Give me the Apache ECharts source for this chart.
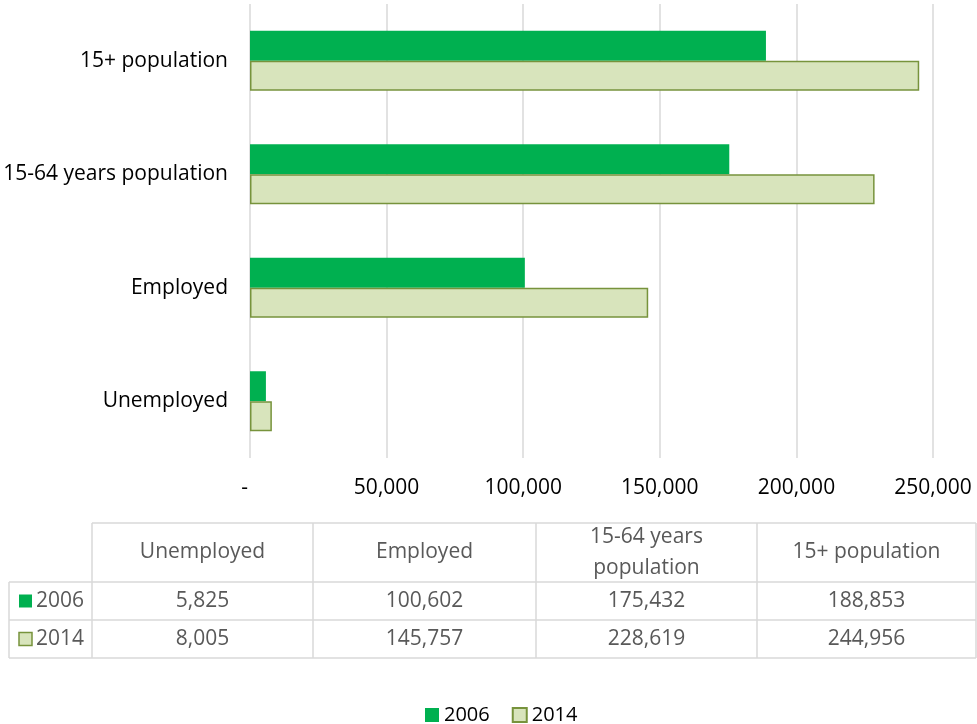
<!DOCTYPE html>
<html>
<head>
<meta charset="utf-8">
<script src="https://cdn.jsdelivr.net/npm/echarts@6/dist/echarts.min.js"></script>
<style>html,body{margin:0;padding:0;background:#fff}#c{width:977px;height:724px}</style>
</head>
<body>
<div id="c"></div>
<script>
// ---- data ----
const categories = ['Unemployed', 'Employed', '15-64 years population', '15+ population'];
const tableHeaders = ['Unemployed', 'Employed', '15-64 years\npopulation', '15+ population'];
const seriesNames = ['2006', '2014'];
const values2006 = [5825, 100602, 175432, 188853];
const values2014 = [8005, 145757, 228619, 244956];
const xTicks = [0, 50000, 100000, 150000, 200000, 250000];

// ---- styles / layout ----
const FONT = 'Open Sans';
const C2006 = '#00B050';
const C2014 = '#D8E4BC';
const C2014B = '#77933C';
const GRID = '#D9D9D9';
const colX = [92, 313, 536, 757, 976];
const rowY = [523, 582, 620, 658];
const rowLabelX = 9;

const fmt = v => v === 0 ? '-  ' : v.toLocaleString('en-US');

const chart = echarts.init(document.getElementById('c'), null, {renderer: 'canvas'});

const graphics = [];
const line = (x1, y1, x2, y2) => graphics.push({
  type: 'line', silent: true,
  shape: {x1, y1, x2, y2},
  style: {stroke: GRID, lineWidth: 1.5}
});
line(colX[0], rowY[0], colX[4], rowY[0]);
for (let r = 1; r < rowY.length; r++) line(rowLabelX, rowY[r], colX[4], rowY[r]);
line(rowLabelX, rowY[1], rowLabelX, rowY[3]);
for (let c = 0; c < colX.length; c++) line(colX[c], rowY[0], colX[c], rowY[3]);

const txt = (text, x, y, opts) => graphics.push({
  type: 'text', silent: true, x, y,
  style: Object.assign({text, fill: '#595959', font: '21px "' + FONT + '"', align: 'center', verticalAlign: 'middle', lineHeight: 31}, opts || {})
});
tableHeaders.forEach((h, i) => txt(h, (colX[i] + colX[i + 1]) / 2, (rowY[0] + rowY[1]) / 2));
[values2006, values2014].forEach((vals, r) => {
  const cy = (rowY[r + 1] + rowY[r + 2]) / 2;
  vals.forEach((v, i) => txt(fmt(v), (colX[i] + colX[i + 1]) / 2, cy));
  graphics.push({
    type: 'rect', silent: true,
    shape: {x: 19, y: cy - 6.5, width: 13, height: 13},
    style: r === 0 ? {fill: C2006} : {fill: C2014, stroke: C2014B, lineWidth: 1.5}
  });
  txt(seriesNames[r], 36, cy, {align: 'left'});
});

chart.setOption({
  animation: false,
  textStyle: {fontFamily: FONT},
  grid: {left: 250, right: 44, top: 4, bottom: 266, containLabel: false},
  xAxis: {
    type: 'value', min: 0, max: 250000, interval: 50000,
    axisLine: {show: false}, axisTick: {show: false},
    splitLine: {show: true, lineStyle: {color: GRID, width: 1.5}},
    axisLabel: {color: '#000', fontSize: 21, fontFamily: FONT, margin: 20, formatter: v => fmt(v)}
  },
  yAxis: {
    type: 'category', data: categories,
    axisLine: {show: false}, axisTick: {show: false},
    axisLabel: {color: '#000', fontSize: 21, fontFamily: FONT, margin: 22}
  },
  legend: {
    top: 700, left: 420, itemWidth: 14, itemHeight: 14, itemGap: 22,
    icon: 'rect',
    textStyle: {color: '#000', fontSize: 20, fontFamily: FONT},
    data: seriesNames
  },
  series: [
    {name: seriesNames[0], type: 'bar', data: values2006, barWidth: 30, barGap: '0%',
     itemStyle: {color: C2006}},
    {name: seriesNames[1], type: 'bar', data: values2014, barWidth: 30, barGap: '0%',
     itemStyle: {color: C2014, borderColor: C2014B, borderWidth: 1.5}}
  ],
  graphic: graphics
});
</script>
</body>
</html>
